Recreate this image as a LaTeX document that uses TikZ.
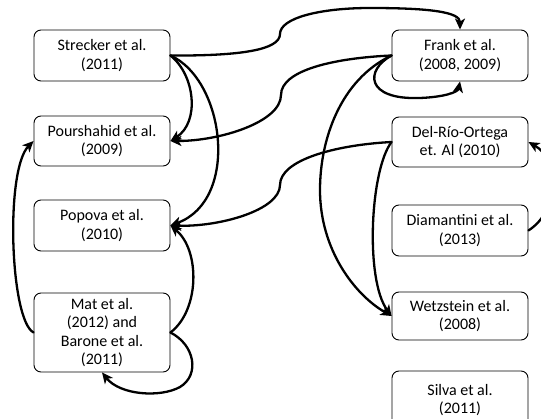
\documentclass[tikz,border=0pt]{standalone}
\usepackage{fontspec}
\setmainfont{Carlito}
\usetikzlibrary{arrows.meta}

\tikzset{
  refbox/.style={draw=black, line width=0.9pt, rounded corners=7pt, fill=white,
    minimum width=136pt, inner sep=0pt, align=center,
    font=\fontsize{16}{18.5}\selectfont},
  link/.style={line width=2.3pt, line cap=round, line join=round,
    -{Stealth[length=11pt, width=10pt, inset=3pt]}}
}

\begin{document}
\begin{tikzpicture}[x=1pt, y=-1pt]
\useasboundingbox (0,0) rectangle (541,419);

% left column
\node[refbox, minimum height=51pt] (strecker) at (102,55.5) {Strecker et al.\\(2011)};
\node[refbox, minimum height=50pt] (pourshahid) at (102,141) {Pourshahid et al.\\(2009)};
\node[refbox, minimum height=51pt] (popova) at (102,225.5) {Popova et al.\\(2010)};
\node[refbox, minimum height=79pt] (mat) at (102,332.5) {Mat et al.\\(2012) and\\Barone et al.\\(2011)};

% right column
\node[refbox, minimum height=51pt] (frank) at (460,55.5) {Frank et al.\\(2008, 2009)};
\node[refbox, minimum height=50pt] (delrio) at (460,142) {Del-Río-Ortega\\et. Al (2010)};
\node[refbox, minimum height=51pt] (diamantini) at (460,230.5) {Diamantini et al.\\(2013)};
\node[refbox, minimum height=48pt] (wetzstein) at (460,316) {Wetzstein et al.\\(2008)};
\node[refbox, minimum height=58pt] (silva) at (460,400) {Silva et al.\\(2011)};

% citations between the columns
\draw[link] (strecker.east) .. controls (240,56) and (280,50) .. (280,34)
  .. controls (280,18) and (320,8) .. (370,8)
  .. controls (430,8) and (460,12) .. (frank.north);
\draw[link] (frank.west) .. controls (335,58) and (281,70) .. (281,95)
  .. controls (281,122) and (220,141) .. (pourshahid.east);
\draw[link] (delrio.west) .. controls (335,145) and (280,160) .. (280,185)
  .. controls (280,210) and (220,227) .. (popova.east);

% left column links
\draw[link] (strecker.east) .. controls (195,75) and (200,122) .. (pourshahid.east);
\draw[link] (strecker.east) .. controls (225,80) and (240,200) .. (popova.east);
\draw[link] (mat.east) .. controls (200,310) and (200,250) .. (popova.east);
\draw[link] (mat.east) .. controls (195,345) and (200,375) .. (180,387)
  .. controls (160,398) and (120,395) .. (mat.south);
\draw[link] (mat.west) .. controls (10,320) and (5,170) .. (pourshahid.west);

% right column links
\draw[link] (frank.west) .. controls (365,70) and (365,100) .. (420,98)
  .. controls (445,97) and (458,92) .. (frank.south);
\draw[link] (frank.west) .. controls (340,80) and (320,140) .. (320,190)
  .. controls (320,250) and (355,295) .. (wetzstein.west);
\draw[link] (delrio.west) .. controls (370,170) and (365,280) .. (wetzstein.west);
\draw[link] (diamantini.east) .. controls (560,210) and (560,160) .. (delrio.east);
\end{tikzpicture}
\end{document}
